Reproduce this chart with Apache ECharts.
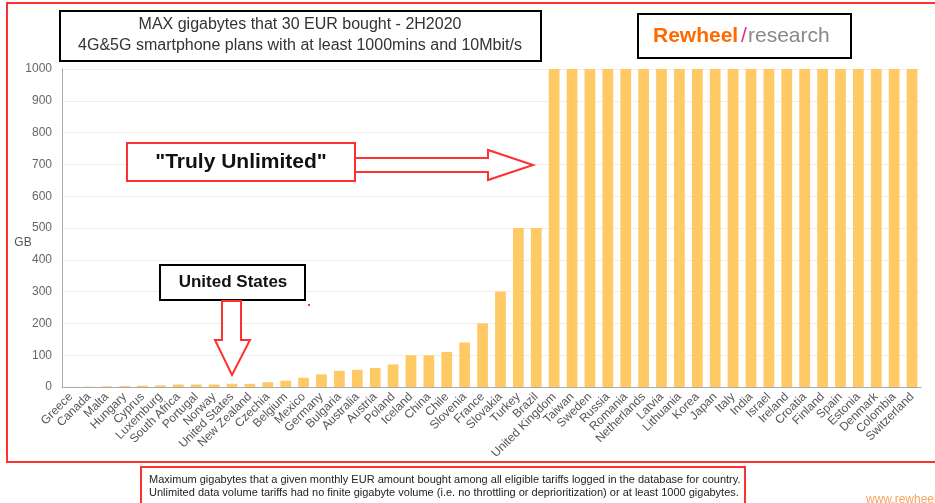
<!DOCTYPE html>
<html>
<head>
<meta charset="utf-8">
<title>MAX gigabytes that 30 EUR bought - 2H2020</title>
<script src="https://cdn.jsdelivr.net/npm/echarts@6/dist/echarts.min.js"></script>
<style>
    html, body { margin: 0; padding: 0; background: #fff; }
    #gb_chart { width: 935px; height: 503px; }
</style>
</head>
<body>
<div id="gb_chart"></div>
<script>
// 国家（按数据量从小到大）
var countries = ['Greece', 'Canada', 'Malta', 'Hungary', 'Cyprus', 'Luxemburg', 'South Africa', 'Portugal',
    'Norway', 'United States', 'New Zealand', 'Czechia', 'Belgium', 'Mexico', 'Germany', 'Bulgaria',
    'Australia', 'Austria', 'Poland', 'Iceland', 'China', 'Chile', 'Slovenia', 'France', 'Slovakia',
    'Turkey', 'Brazil', 'United Kingdom', 'Taiwan', 'Sweden', 'Russia', 'Romania', 'Netherlands',
    'Latvia', 'Lithuania', 'Korea', 'Japan', 'Italy', 'India', 'Israel', 'Ireland', 'Croatia',
    'Finland', 'Spain', 'Estonia', 'Denmark', 'Colombia', 'Switzerland'];
// 30欧元能买到的最大GB
var maxGb = [0.5, 1, 2, 3, 4, 5, 8, 8, 8, 10, 10, 15, 20, 29, 40, 51, 54, 60, 71, 100, 100, 110, 140,
    200, 300, 500, 500, 1000, 1000, 1000, 1000, 1000, 1000, 1000, 1000, 1000, 1000, 1000, 1000, 1000,
    1000, 1000, 1000, 1000, 1000, 1000, 1000, 1000];
var yTicks = { min: 0, max: 1000, interval: 100 };

var titleLines = ['MAX gigabytes that 30 EUR bought - 2H2020', '4G&5G smartphone plans with at least 1000mins and 10Mbit/s'];
var noteLines = ['Maximum gigabytes that a given monthly EUR amount bought among all eligible tariffs logged in the database for country.',
    'Unlimited data volume tariffs had no finite gigabyte volume (i.e. no throttling or deprioritization) or at least 1000 gigabytes.'];

var red = '#ff3030';
var font = 'Liberation Sans, Arial, sans-serif';
var myChart = echarts.init(document.getElementById('gb_chart'));
myChart.setOption({
    animation: false,
    textStyle: { fontFamily: font },
    grid: { left: 62, right: 14, top: 69, bottom: 116 },
    xAxis: {
        type: 'category',
        data: countries,
        axisLine: { lineStyle: { color: '#aaa' } },
        axisTick: { show: false },
        axisLabel: { rotate: 45, interval: 0, fontSize: 12, color: '#555', margin: 8 }
    },
    yAxis: {
        type: 'value',
        min: yTicks.min,
        max: yTicks.max,
        interval: yTicks.interval,
        axisLine: { show: true, lineStyle: { color: '#aaa' } },
        axisLabel: { color: '#666', fontSize: 12, margin: 10, formatter: function (v) { return String(v); } },
        splitLine: { lineStyle: { color: '#eeeeee' } }
    },
    series: [{
        name: 'GB',
        type: 'bar',
        data: maxGb,
        barWidth: '60%',
        itemStyle: { color: '#ffc966' }
    }],
    graphic: [
        // 外框
        { type: 'polyline', z: 100, shape: { points: [[940, 3], [7, 3], [7, 462], [940, 462]] },
          style: { stroke: red, lineWidth: 2, fill: null } },
        // y轴单位
        { type: 'text', z: 101, x: 23, y: 243, style: { text: 'GB', textAlign: 'center', textVerticalAlign: 'middle',
          font: '12px ' + font, fill: '#555' } },
        // 标题框
        { type: 'rect', z: 100, shape: { x: 60, y: 11, width: 481, height: 50 },
          style: { fill: '#fff', stroke: '#000', lineWidth: 2 } },
        { type: 'text', z: 101, x: 300, y: 25, style: { text: titleLines[0], textAlign: 'center', textVerticalAlign: 'middle',
          font: '16px ' + font, fill: '#333' } },
        { type: 'text', z: 101, x: 300, y: 46, style: { text: titleLines[1], textAlign: 'center', textVerticalAlign: 'middle',
          font: '16px ' + font, fill: '#333' } },
        // Rewheel logo
        { type: 'rect', z: 100, shape: { x: 638, y: 14, width: 213, height: 44 },
          style: { fill: '#fff', stroke: '#000', lineWidth: 2 } },
        { type: 'text', z: 101, x: 653, y: 36, style: { text: 'Rewheel', textVerticalAlign: 'middle',
          font: 'bold 21px ' + font, fill: '#ff6a00' } },
        { type: 'text', z: 101, x: 741, y: 36, style: { text: '/', textVerticalAlign: 'middle',
          font: '21px ' + font, fill: '#e0307a' } },
        { type: 'text', z: 101, x: 748, y: 36, style: { text: 'research', textVerticalAlign: 'middle',
          font: '21px ' + font, fill: '#888' } },
        // "Truly Unlimited"
        { type: 'rect', z: 100, shape: { x: 127, y: 143, width: 228, height: 38 },
          style: { fill: '#fff', stroke: red, lineWidth: 2 } },
        { type: 'text', z: 101, x: 241, y: 162, style: { text: '"Truly Unlimited"', textAlign: 'center', textVerticalAlign: 'middle',
          font: 'bold 21px ' + font, fill: '#111' } },
        { type: 'polygon', z: 100, shape: { points: [[355, 158], [488, 158], [488, 150], [533, 165], [488, 180], [488, 172], [355, 172]] },
          style: { fill: '#fff', stroke: red, lineWidth: 2 } },
        // United States
        { type: 'rect', z: 100, shape: { x: 160, y: 265, width: 145, height: 35 },
          style: { fill: '#fff', stroke: '#000', lineWidth: 2 } },
        { type: 'text', z: 101, x: 233, y: 282, style: { text: 'United States', textAlign: 'center', textVerticalAlign: 'middle',
          font: 'bold 17px ' + font, fill: '#111' } },
        { type: 'polygon', z: 100, shape: { points: [[222, 301], [222, 340], [215, 340], [232, 375], [250, 340], [241, 340], [241, 301]] },
          style: { fill: '#fff', stroke: red, lineWidth: 2 } },
        { type: 'rect', z: 100, shape: { x: 308, y: 304, width: 2, height: 2 }, style: { fill: red } },
        // 注释
        { type: 'rect', z: 100, shape: { x: 141, y: 467, width: 604, height: 45 },
          style: { fill: '#fff', stroke: red, lineWidth: 2 } },
        { type: 'text', z: 101, x: 149, y: 480, style: { text: noteLines[0], textVerticalAlign: 'middle',
          font: '11px Liberation Sans Narrow, Arial Narrow, sans-serif', fill: '#222' } },
        { type: 'text', z: 101, x: 149, y: 493, style: { text: noteLines[1], textVerticalAlign: 'middle',
          font: '11px Liberation Sans Narrow, Arial Narrow, sans-serif', fill: '#222' } },
        { type: 'text', z: 101, x: 866, y: 500, style: { text: 'www.rewheel.fi', textVerticalAlign: 'middle',
          font: '12px ' + font, fill: '#f7a35c' } }
    ]
});
</script>
</body>
</html>
